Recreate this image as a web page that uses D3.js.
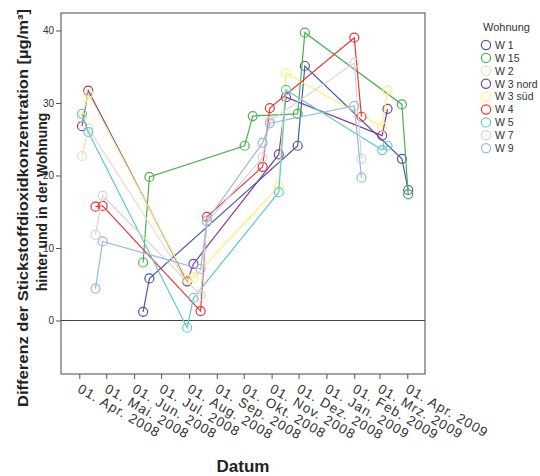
<!DOCTYPE html>
<html><head><meta charset="utf-8">
<script src="https://cdn.jsdelivr.net/npm/d3@7"></script>
<style>body{margin:0;background:#fff}svg{display:block;font-family:Arial,"Liberation Sans",sans-serif}</style>
</head><body><svg width="540" height="476"></svg>
<script>
// ---- data ----
const categories = ["W 1","W 15","W 2","W 3 nord","W 3 süd","W 4","W 5","W 7","W 9"];
const colors = ["#4a58a8","#4cb050","#e6dec6","#80409a","#f8f07a","#e8383c","#62c8cc","#d6d6d6","#9ab8e0"];

const w1Dates  = ["2008-06-11","2008-06-18","2008-11-30","2008-12-08","2009-03-26","2009-04-02"];
const w1Values = [1.2, 5.8, 24.1, 35.1, 22.3, 18.0];
const w15Dates  = ["2008-06-11","2008-06-18","2008-10-02","2008-10-11","2008-11-30","2008-12-08","2009-03-26","2009-04-02"];
const w15Values = [8.0, 19.8, 24.1, 28.2, 28.5, 39.7, 29.8, 17.4];
const w2Dates  = ["2008-04-04","2008-04-11","2008-07-30"];
const w2Values = [22.7, 26.5, 5.3];
const w3nDates  = ["2008-04-04","2008-04-11","2008-07-30","2008-08-06","2008-11-09","2008-11-17","2009-03-04","2009-03-10"];
const w3nValues = [26.8, 31.7, 5.4, 7.8, 22.9, 30.8, 25.5, 29.2];
const w3sDates  = ["2008-04-04","2008-04-11","2008-07-30","2008-08-06","2008-11-09","2008-11-17","2009-03-04","2009-03-10"];
const w3sValues = [28.0, 31.3, 5.6, 5.9, 18.5, 34.1, 26.7, 31.7];
const w4Dates  = ["2008-04-19","2008-04-27","2008-08-14","2008-08-21","2008-10-22","2008-10-30","2009-02-01","2009-02-09"];
const w4Values = [15.7, 15.8, 1.3, 14.3, 21.2, 29.3, 39.0, 28.1];
const w5Dates  = ["2008-04-04","2008-04-11","2008-07-30","2008-08-06","2008-11-09","2008-11-17","2009-03-04","2009-03-10"];
const w5Values = [28.5, 26.0, -1.0, 3.1, 17.7, 31.8, 23.5, 24.1];
const w7Dates  = ["2008-04-19","2008-04-27","2008-08-14","2008-08-21","2008-10-22","2008-10-30","2009-02-01","2009-02-09"];
const w7Values = [11.8, 17.2, 3.5, 13.5, 22.5, 27.5, 35.5, 22.3];
const w9Dates  = ["2008-04-19","2008-04-27","2008-08-14","2008-08-21","2008-10-22","2008-10-30","2009-02-01","2009-02-09"];
const w9Values = [4.4, 10.9, 7.1, 13.8, 24.5, 27.2, 29.6, 19.7];

const yTicks = [0, 10, 20, 30, 40];
const xTickDates = ["2008-04-01","2008-05-01","2008-06-01","2008-07-01","2008-08-01","2008-09-01","2008-10-01","2008-11-01","2008-12-01","2009-01-01","2009-02-01","2009-03-01","2009-04-01"];
const xTickLabels = ["01. Apr. 2008","01. Mai. 2008","01. Jun. 2008","01. Jul. 2008","01. Aug. 2008","01. Sep. 2008","01. Okt. 2008","01. Nov. 2008","01. Dez. 2008","01. Jan. 2009","01. Feb. 2009","01. Mrz. 2009","01. Apr. 2009"];

// ---- build ----
const parse = d3.utcParse("%Y-%m-%d");
const seriesDates = [w1Dates,w15Dates,w2Dates,w3nDates,w3sDates,w4Dates,w5Dates,w7Dates,w9Dates];
const seriesValues = [w1Values,w15Values,w2Values,w3nValues,w3sValues,w4Values,w5Values,w7Values,w9Values];
const series = categories.map((name,i)=>({name, color:colors[i],
  points: seriesDates[i].map((d,j)=>({date:parse(d), value:seriesValues[i][j]}))}));

const svg = d3.select("svg");
const L=61, R=425, T=13, B=374;
const x = d3.scaleUtc().domain([parse("2008-04-01"), parse("2009-04-01")]).range([79.3, 407.3]);
const y = d3.scaleLinear().domain([-7.38, 42.41]).range([B, T]);

svg.append("rect").attr("x",L).attr("y",T).attr("width",R-L).attr("height",B-T)
  .attr("fill","#fff").attr("stroke","#666").attr("stroke-width",1.2);

// y axis
const ya = svg.append("g").attr("transform",`translate(${L},0)`)
  .call(d3.axisLeft(y).tickValues(yTicks).tickSize(5).tickPadding(2));
ya.select(".domain").remove();
ya.selectAll("line").attr("stroke","#555");
ya.selectAll("text").attr("font-size","10px").attr("fill","#333").attr("font-family","Arial, 'Liberation Sans', sans-serif");

// x axis
const xa = svg.append("g").attr("transform",`translate(0,${B})`)
  .call(d3.axisBottom(x).tickValues(xTickDates.map(parse)).tickSize(5).tickFormat((d,i)=>xTickLabels[i]));
xa.select(".domain").remove();
xa.selectAll("line").attr("stroke","#555");
xa.selectAll("text").attr("font-size","13.5px").attr("fill","#333")
  .attr("font-family","Arial, 'Liberation Sans', sans-serif")
  .attr("letter-spacing","1px")
  .attr("text-anchor","start").attr("x",0).attr("y",0).attr("dy",null)
  .attr("transform","translate(-3,17.5) rotate(30)");

// zero line
svg.append("line").attr("x1",L).attr("x2",R).attr("y1",y(0)).attr("y2",y(0))
  .attr("stroke","#444").attr("stroke-width",1.2);

// series
const line = d3.line().x(d=>x(d.date)).y(d=>y(d.value));
const g = svg.append("g");
series.forEach(s=>{
  g.append("path").datum(s.points).attr("d",line).attr("fill","none")
    .attr("stroke",s.color).attr("stroke-width",1.2);
  g.selectAll(null).data(s.points).enter().append("circle")
    .attr("cx",d=>x(d.date)).attr("cy",d=>y(d.value)).attr("r",4.5)
    .attr("fill","none").attr("stroke",s.color).attr("stroke-width",1.2);
});

// titles
svg.append("text").attr("x",(L+R)/2).attr("y",472).attr("text-anchor","middle")
  .attr("font-size","17px").attr("font-weight","bold").attr("fill","#222").text("Datum");
svg.append("text").attr("transform","translate(28,208) rotate(-90)")
  .attr("text-anchor","middle").attr("font-size","14px").attr("font-weight","bold").attr("fill","#222")
  .attr("textLength",398).attr("lengthAdjust","spacingAndGlyphs")
  .text("Differenz der Stickstoffdioxidkonzentration [µg/m³]");
svg.append("text").attr("transform","translate(47,202) rotate(-90)")
  .attr("text-anchor","middle").attr("font-size","14px").attr("font-weight","bold").attr("fill","#222")
  .text("hinter und in der Wohnung");

// legend
const lg = svg.append("g");
lg.append("text").attr("x",483).attr("y",31).attr("font-size","11px").attr("fill","#333").text("Wohnung");
categories.forEach((c,i)=>{
  const yy = 45 + i*12.9;
  lg.append("circle").attr("cx",486).attr("cy",yy).attr("r",4.6)
    .attr("fill","none").attr("stroke",colors[i]).attr("stroke-width",1.2);
  lg.append("text").attr("x",495).attr("y",yy+3.8).attr("font-size","10.5px").attr("fill","#333").text(c);
});
</script></body></html>
